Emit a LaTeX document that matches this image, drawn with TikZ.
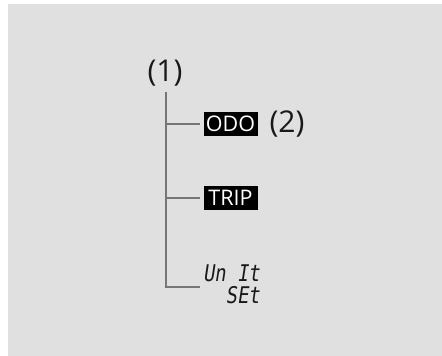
\documentclass[tikz,border=0pt]{standalone}
\usepackage{fontspec}
\setmainfont{Open Sans}
\newfontfamily\segfont{DejaVu Sans Mono}[FakeSlant=0.15,FakeStretch=0.82]
\usetikzlibrary{positioning,calc}
\definecolor{panelgray}{RGB}{224,224,224}
\definecolor{stemgray}{RGB}{118,118,118}
\definecolor{textdark}{RGB}{25,25,25}
\tikzset{
  callout/.style={inner sep=0pt, text=textdark, font=\fontsize{30}{32}\selectfont},
  lcdbox/.style={rectangle, draw=black, fill=black, text=white, inner sep=0pt,
    minimum width=53pt, minimum height=23pt, font=\fontsize{21.5}{22}\selectfont},
  segtext/.style={inner sep=0pt, align=right, text=textdark, font=\segfont\fontsize{23}{22}\selectfont},
  branch/.style={stemgray, line width=2pt},
  twig/.style={stemgray, line width=2pt, shorten >=4pt}
}

\begin{document}
\begin{tikzpicture}[x=1pt,y=-1pt]
  \useasboundingbox (0,0) rectangle (442,356);
  \fill[panelgray] (8,4) rectangle (442,356);
  % menu items
  \node[callout] (top) at (165,73) {(1)};
  \node[lcdbox] (odo) at (230.5,123.5) {ODO};
  \node[callout] (odonum) at (287,124) {(2)};
  \node[lcdbox] (trip) at (230.5,197.5) {TRIP};
  \node[segtext, anchor=east] (unit) at (260,284) {Un It\\SEt};
  % tree lines
  \coordinate (stemtop) at (166,92);
  \coordinate (stembot) at (166,287);
  \coordinate (unitend) at (200,287);
  \draw[branch] (stemtop) -- (stembot) -- (unitend);
  \draw[twig] (stemtop |- odo.west) -- (odo.west);
  \draw[twig] (stemtop |- trip.west) -- (trip.west);
\end{tikzpicture}
\end{document}
